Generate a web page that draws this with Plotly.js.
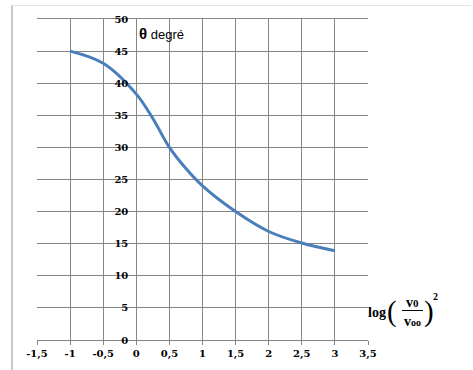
<!DOCTYPE html>
<html><head><meta charset="utf-8">
<script src="https://cdn.plot.ly/plotly-3.0.1.min.js"></script>
<style>html,body{margin:0;padding:0;background:#fff;}#chart{width:473px;height:370px;}</style>
</head><body><div id="chart"></div>
<script>
// data
const logRatio = [-1, -0.5, 0, 0.25, 0.5, 0.75, 1, 1.5, 2, 2.5, 3];
const thetaDeg = [45, 43.1, 38.3, 34.5, 30, 26.7, 24, 20, 16.9, 15.1, 13.9];
const xTickVals = [-1.5, -1, -0.5, 0, 0.5, 1, 1.5, 2, 2.5, 3, 3.5];
const xTickText = ["-1,5", "-1", "-0,5", "0", "0,5", "1", "1,5", "2", "2,5", "3", "3,5"];
const yTickVals = [0, 5, 10, 15, 20, 25, 30, 35, 40, 45, 50];
const yTickText = ["0", "5", "10", "15", "20", "25", "30", "35", "40", "45", "50"];

const W = 473, H = 370, L = 37, R = 105, T = 19, B = 30;
const pw = W - L - R, ph = H - T - B;
const px = x => (x - L) / pw;
const py = y => (H - B - y) / ph;

const grid = '#868686';
const tickFont = {family: 'DejaVu Serif', size: 10, color: '#000'};
const serif = 'Liberation Serif';
const bold = a => a.map(s => '<b>' + s + '</b>');

const trace = {
  x: logRatio, y: thetaDeg, type: 'scatter', mode: 'lines',
  line: {color: '#4a7ebb', width: 3, shape: 'spline', smoothing: 1},
  hoverinfo: 'skip'
};

const ann = [
  {xref: 'x', yref: 'y', x: 0.01, y: 47.7, xanchor: 'left', yanchor: 'middle', showarrow: false,
   text: '<b><span style="font-size:15px">θ</span></b> degré', font: {family: 'Liberation Sans', size: 13, color: '#000'}},
  {xref: 'paper', yref: 'paper', x: px(366), y: py(312), xanchor: 'left', yanchor: 'middle', showarrow: false,
   text: '<b>log</b>', font: {family: serif, size: 14, color: '#000'}},
  {xref: 'paper', yref: 'paper', x: px(399), y: py(311), xanchor: 'right', yanchor: 'middle', showarrow: false,
   text: '(', font: {family: serif, size: 29, color: '#000'}},
  {xref: 'paper', yref: 'paper', x: px(422), y: py(311), xanchor: 'left', yanchor: 'middle', showarrow: false,
   text: ')', font: {family: serif, size: 29, color: '#000'}},
  {xref: 'paper', yref: 'paper', x: px(412), y: py(302), xanchor: 'center', yanchor: 'middle', showarrow: false,
   text: '<b>v<span style="font-size:11px">0</span></b>', font: {family: serif, size: 14, color: '#000'}},
  {xref: 'paper', yref: 'paper', x: px(412), y: py(321), xanchor: 'center', yanchor: 'middle', showarrow: false,
   text: '<b>v<span style="font-size:10px">oo</span></b>', font: {family: serif, size: 14, color: '#000'}},
  {xref: 'paper', yref: 'paper', x: px(435), y: py(296), xanchor: 'center', yanchor: 'middle', showarrow: false,
   text: '<b>2</b>', font: {family: serif, size: 10, color: '#000'}}
];

const shapes = [
  {type: 'line', xref: 'paper', yref: 'paper', x0: px(402), x1: px(423), y0: py(310.5), y1: py(310.5),
   line: {color: '#000', width: 1}},
  {type: 'line', xref: 'paper', yref: 'paper', x0: px(12), x1: px(12), y0: py(5), y1: py(372),
   line: {color: '#c8c8c8', width: 2}},
  {type: 'line', xref: 'paper', yref: 'paper', x0: px(12), x1: px(471), y0: py(5.5), y1: py(5.5),
   line: {color: '#e3e3e3', width: 1}}
];

const layout = {
  width: W, height: H,
  margin: {l: L, r: R, t: T, b: B, pad: 0},
  paper_bgcolor: '#fff', plot_bgcolor: '#fff',
  showlegend: false,
  xaxis: {
    range: [-1.5, 3.5], tickmode: 'array', tickvals: xTickVals, ticktext: bold(xTickText),
    showgrid: true, gridcolor: grid, gridwidth: 1,
    zeroline: true, zerolinecolor: grid, zerolinewidth: 1,
    showline: true, linecolor: grid, linewidth: 1, mirror: true,
    ticks: 'outside', ticklen: 4, tickcolor: grid, tickwidth: 1,
    tickfont: tickFont, fixedrange: true
  },
  yaxis: {
    range: [0, 50], tickmode: 'array', tickvals: yTickVals, ticktext: bold(yTickText),
    anchor: 'free', position: 0.3,
    showgrid: true, gridcolor: grid, gridwidth: 1,
    zeroline: true, zerolinecolor: grid, zerolinewidth: 1,
    showline: false, ticks: '', ticklabelstandoff: 8,
    tickfont: tickFont, fixedrange: true
  },
  annotations: ann,
  shapes: shapes
};

Plotly.newPlot('chart', [trace], layout, {displayModeBar: false, staticPlot: true});
</script></body></html>
